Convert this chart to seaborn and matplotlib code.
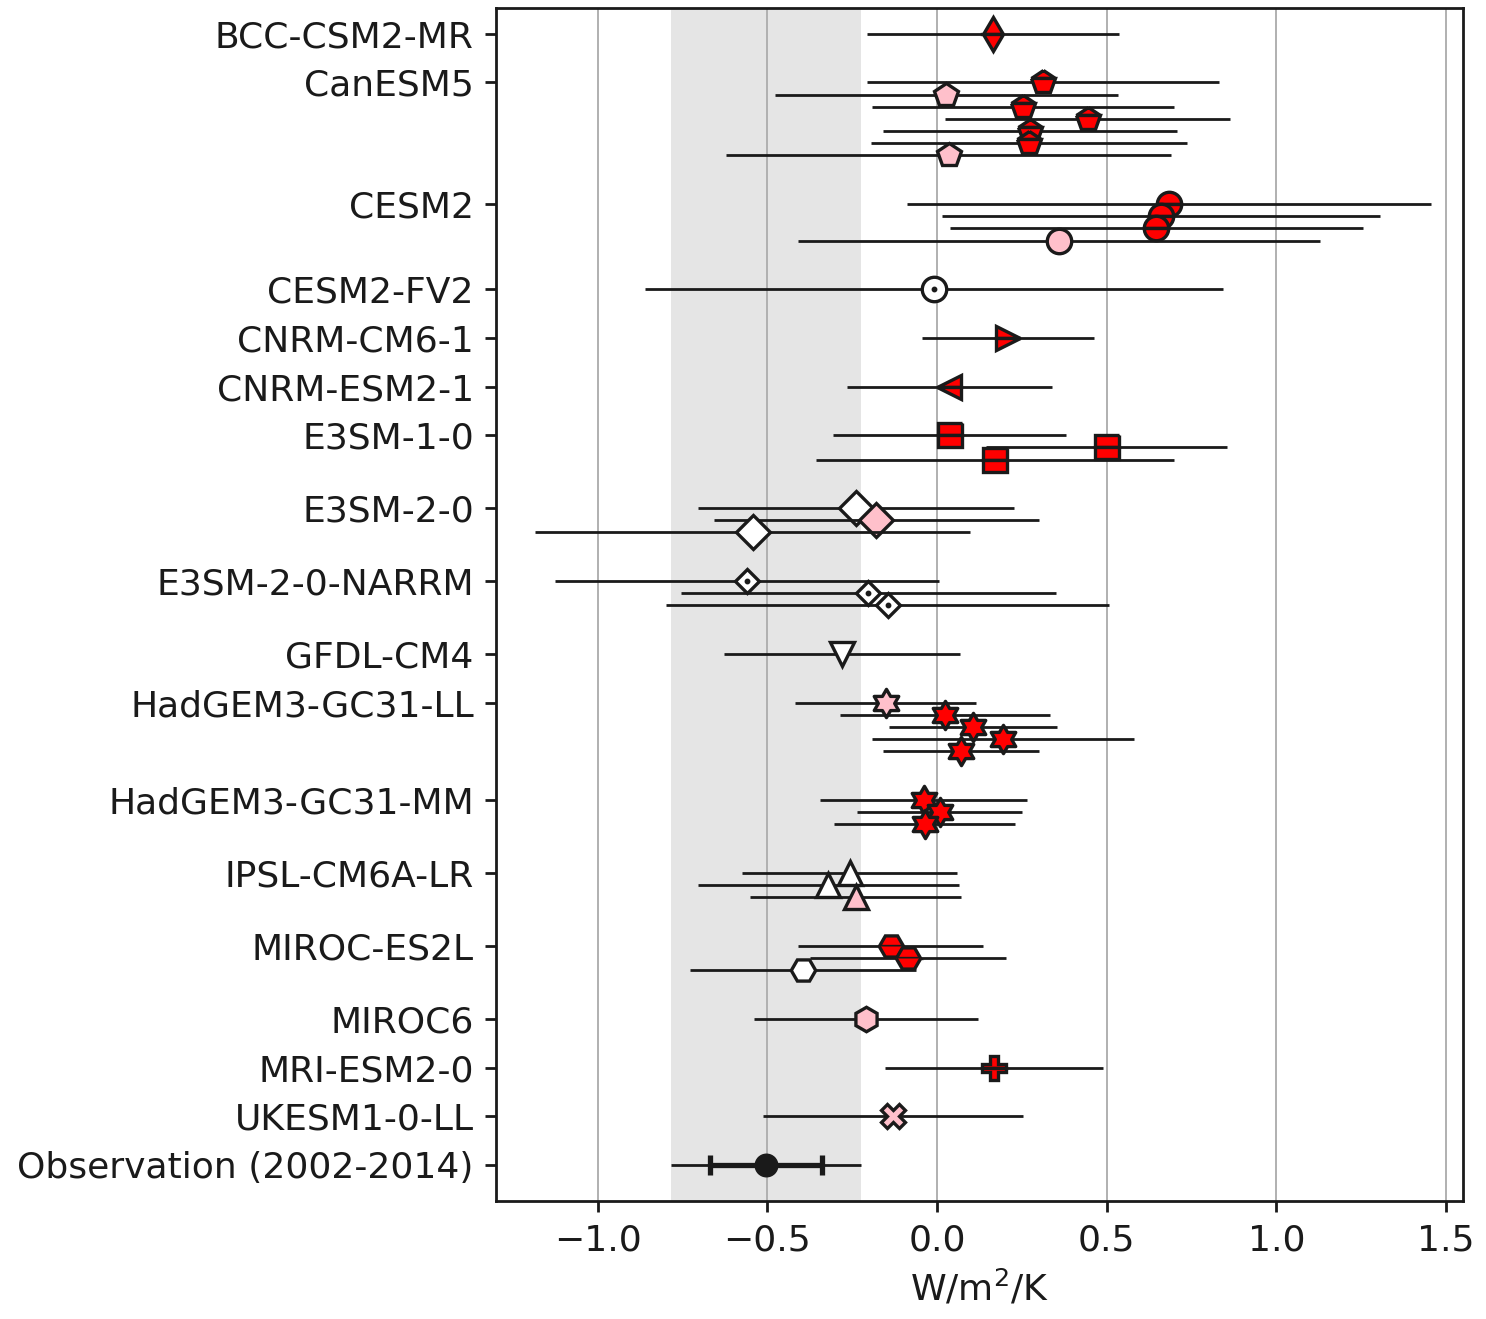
import numpy as np
import matplotlib
matplotlib.use("Agg")
import matplotlib.pyplot as plt
from matplotlib.path import Path
import seaborn as sns
import pandas as pd

# ---------------- data ----------------
model_names = ["BCC-CSM2-MR", "CanESM5", "CESM2", "CESM2-FV2", "CNRM-CM6-1",
               "CNRM-ESM2-1", "E3SM-1-0", "E3SM-2-0", "E3SM-2-0-NARRM", "GFDL-CM4",
               "HadGEM3-GC31-LL", "HadGEM3-GC31-MM", "IPSL-CM6A-LR", "MIROC-ES2L",
               "MIROC6", "MRI-ESM2-0", "UKESM1-0-LL"]

member_model = (["BCC-CSM2-MR"] + ["CanESM5"] * 7 + ["CESM2"] * 4 + ["CESM2-FV2"]
                + ["CNRM-CM6-1"] + ["CNRM-ESM2-1"] + ["E3SM-1-0"] * 3 + ["E3SM-2-0"] * 3
                + ["E3SM-2-0-NARRM"] * 3 + ["GFDL-CM4"] + ["HadGEM3-GC31-LL"] * 5
                + ["HadGEM3-GC31-MM"] * 3 + ["IPSL-CM6A-LR"] * 3 + ["MIROC-ES2L"] * 3
                + ["MIROC6"] + ["MRI-ESM2-0"] + ["UKESM1-0-LL"])

member_value = [0.165,
                0.312, 0.027, 0.253, 0.444, 0.273, 0.270, 0.034,
                0.684, 0.659, 0.646, 0.359,
                -0.009,
                0.210,
                0.036,
                0.037, 0.500, 0.170,
                -0.240, -0.179, -0.544,
                -0.560, -0.203, -0.146,
                -0.280,
                -0.152, 0.023, 0.105, 0.195, 0.071,
                -0.039, 0.008, -0.037,
                -0.258, -0.321, -0.240,
                -0.137, -0.086, -0.396,
                -0.210,
                0.168,
                -0.129]

member_error = [0.372,
                0.518, 0.505, 0.446, 0.420, 0.433, 0.466, 0.655,
                0.772, 0.645, 0.608, 0.770,
                0.853,
                0.253,
                0.302,
                0.343, 0.355, 0.527,
                0.466, 0.479, 0.640,
                0.566, 0.553, 0.652,
                0.347,
                0.268, 0.310, 0.248, 0.386, 0.229,
                0.305, 0.243, 0.268,
                0.317, 0.385, 0.311,
                0.273, 0.290, 0.333,
                0.331,
                0.321,
                0.383]

member_fill = ["red",
               "red", "pink", "red", "red", "red", "red", "pink",
               "red", "red", "red", "pink",
               "white",
               "red",
               "red",
               "red", "red", "red",
               "white", "pink", "white",
               "white", "white", "white",
               "white",
               "pink", "red", "red", "red", "red",
               "red", "red", "red",
               "white", "white", "pink",
               "red", "red", "white",
               "pink",
               "red",
               "pink"]

obs_label = "Observation (2002-2014)"
obs_value = -0.505
obs_err_1 = 0.165
obs_err_2 = 0.280

# ---------------- styles ----------------
_ang = np.pi / 2 + np.arange(12) * np.pi / 6
_rad = np.where(np.arange(12) % 2 == 0, 1.0, 0.577)
_verts = np.column_stack([_rad * np.cos(_ang), _rad * np.sin(_ang)])
hexagram = Path(np.vstack([_verts, _verts[:1]]), closed=True)

model_marker = {"BCC-CSM2-MR": "d", "CanESM5": "p", "CESM2": "o", "CESM2-FV2": "o",
                "CNRM-CM6-1": ">", "CNRM-ESM2-1": "<", "E3SM-1-0": "s", "E3SM-2-0": "D",
                "E3SM-2-0-NARRM": "D", "GFDL-CM4": "v", "HadGEM3-GC31-LL": hexagram,
                "HadGEM3-GC31-MM": hexagram, "IPSL-CM6A-LR": "^", "MIROC-ES2L": "H",
                "MIROC6": "h", "MRI-ESM2-0": "P", "UKESM1-0-LL": "X"}
model_msize = {"E3SM-2-0-NARRM": 6.2, "HadGEM3-GC31-LL": 10.2, "HadGEM3-GC31-MM": 10.2}
model_dot = {"CESM2-FV2", "E3SM-2-0-NARRM"}

sns.set_theme(style="ticks")
plt.rcParams["font.family"] = ["DejaVu Sans"]
plt.rcParams["font.size"] = 13.0
for key in ["text.color", "axes.labelcolor", "xtick.color", "ytick.color",
            "axes.edgecolor"]:
    plt.rcParams[key] = "black"

df = pd.DataFrame({"model": member_model, "value": member_value,
                   "error": member_error, "fill": member_fill})

# y positions: members 0.25 apart, models 1 apart
ypos = []
tick_pos = []
pos = 0.0
for m in model_names:
    n = (df["model"] == m).sum()
    tick_pos.append(pos)
    ypos.extend([pos + 0.25 * i for i in range(n)])
    pos = pos + 0.25 * (n - 1) + 1.0
obs_pos = pos
df["y"] = ypos

fig = plt.figure(figsize=(7.43, 6.595), dpi=200)
ax = fig.add_axes([0.3338, 0.0895, 0.6507, 0.9044])

ax.axvspan(obs_value - obs_err_2, obs_value + obs_err_2, color="gray", alpha=0.2,
           lw=0, zorder=0)

for k, row in df.iterrows():
    z = 2 + k * 0.01
    ax.hlines(row["y"], row["value"] - row["error"], row["value"] + row["error"],
              color="k", lw=1.0, zorder=z)
    mk = model_marker[row["model"]]
    ms = model_msize.get(row["model"], 8.8)
    kw = dict(marker=mk, ms=ms, mec="k", mew=1.2, ls="none", zorder=z + 0.005)
    if row["fill"] == "red":
        ax.plot([row["value"]], [row["y"]], mfc="red", fillstyle="top",
                markerfacecoloralt="red", **kw)
    else:
        ax.plot([row["value"]], [row["y"]], mfc=row["fill"], **kw)
    if row["model"] in model_dot:
        ax.plot([row["value"]], [row["y"]], marker="o", ms=1.1, color="k",
                ls="none", zorder=z + 0.006)

# observation
ax.hlines(obs_pos, obs_value - obs_err_2, obs_value + obs_err_2, color="k", lw=1.0,
          zorder=3)
ax.errorbar([obs_value], [obs_pos], xerr=[obs_err_1], fmt="none", ecolor="k",
            elinewidth=1.9, capsize=3.6, capthick=1.9, zorder=3.1)
sns.scatterplot(x=[obs_value], y=[obs_pos], ax=ax, color="k", s=66, marker="o",
                edgecolor="k", linewidth=0.5, zorder=3.2, legend=False)

ax.set_xlim(-1.3, 1.55)
ax.set_ylim(obs_pos + 0.74, -0.53)
ax.set_yticks(tick_pos + [obs_pos])
ax.set_yticklabels(model_names + [obs_label])
ax.set_xticks([-1.0, -0.5, 0.0, 0.5, 1.0, 1.5])
ax.set_xticklabels(["\u22121.0", "\u22120.5", "0.0", "0.5", "1.0", "1.5"])
ax.set_xlabel("W/m$^2$/K", fontsize=13.0, color="k")
ax.grid(axis="x", color="#b0b0b0", lw=0.7)
ax.set_axisbelow(True)
ax.tick_params(axis="both", colors="k", width=1.0, length=3.8, labelsize=13.0,
               labelcolor="k", direction="out", left=True, bottom=True, pad=4.2)
for s in ax.spines.values():
    s.set_visible(True)
    s.set_color("k")
    s.set_linewidth(1.0)

fig.savefig("out.png", dpi=200, facecolor="white")
